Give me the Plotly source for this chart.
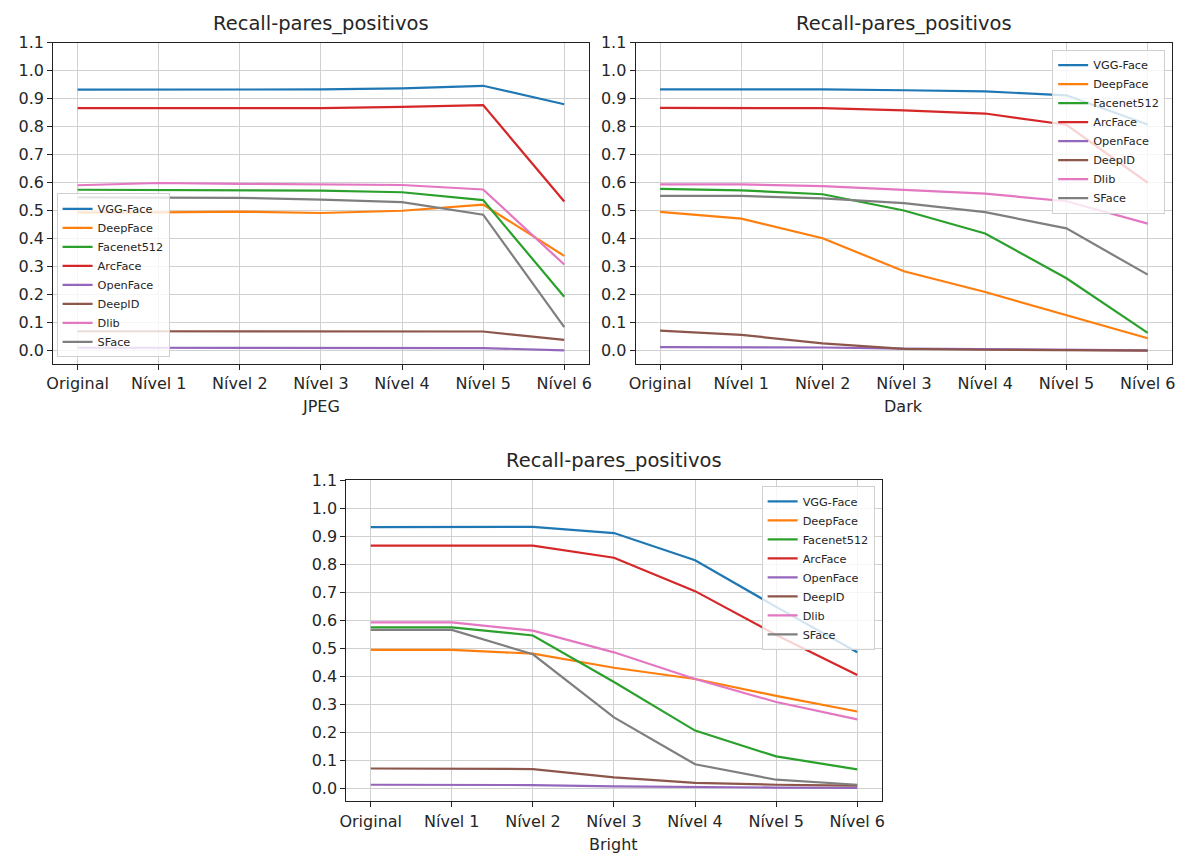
import plotly.graph_objects as go

W, H = 1188, 860

categories = ["Original", "Nível 1", "Nível 2", "Nível 3", "Nível 4", "Nível 5", "Nível 6"]
models = ["VGG-Face", "DeepFace", "Facenet512", "ArcFace", "OpenFace", "DeepID", "Dlib", "SFace"]
colors = ["#1f77b4", "#ff7f0e", "#2ca02c", "#d62728", "#9467bd", "#8c564b", "#e377c2", "#7f7f7f"]
y_ticks = [0.0, 0.1, 0.2, 0.3, 0.4, 0.5, 0.6, 0.7, 0.8, 0.9, 1.0, 1.1]
title_text = "Recall-pares_positivos"
panel_labels = ["JPEG", "Dark", "Bright"]

# JPEG
jpeg_vgg = [0.932, 0.932, 0.933, 0.933, 0.937, 0.946, 0.880]
jpeg_deepface = [0.494, 0.494, 0.497, 0.492, 0.500, 0.522, 0.339]
jpeg_facenet = [0.575, 0.574, 0.574, 0.572, 0.566, 0.538, 0.193]
jpeg_arcface = [0.866, 0.866, 0.867, 0.866, 0.871, 0.877, 0.533]
jpeg_openface = [0.011, 0.011, 0.011, 0.011, 0.011, 0.010, 0.002]
jpeg_deepid = [0.070, 0.070, 0.070, 0.070, 0.070, 0.069, 0.039]
jpeg_dlib = [0.591, 0.599, 0.596, 0.595, 0.592, 0.576, 0.308]
jpeg_sface = [0.548, 0.548, 0.546, 0.540, 0.531, 0.486, 0.085]

# Dark
dark_vgg = [0.933, 0.933, 0.933, 0.930, 0.926, 0.912, 0.808]
dark_deepface = [0.496, 0.472, 0.402, 0.284, 0.210, 0.127, 0.045]
dark_facenet = [0.578, 0.573, 0.559, 0.501, 0.419, 0.259, 0.064]
dark_arcface = [0.867, 0.867, 0.866, 0.858, 0.847, 0.807, 0.600]
dark_openface = [0.013, 0.013, 0.012, 0.008, 0.006, 0.004, 0.002]
dark_deepid = [0.072, 0.057, 0.027, 0.007, 0.004, 0.002, 0.001]
dark_dlib = [0.594, 0.594, 0.588, 0.574, 0.561, 0.534, 0.454]
dark_sface = [0.553, 0.553, 0.544, 0.527, 0.495, 0.437, 0.272]

# Bright
bright_vgg = [0.932, 0.932, 0.933, 0.911, 0.814, 0.648, 0.486]
bright_deepface = [0.495, 0.495, 0.481, 0.431, 0.391, 0.331, 0.275]
bright_facenet = [0.575, 0.575, 0.546, 0.380, 0.207, 0.115, 0.069]
bright_arcface = [0.866, 0.866, 0.866, 0.823, 0.704, 0.548, 0.405]
bright_openface = [0.014, 0.014, 0.013, 0.008, 0.005, 0.004, 0.003]
bright_deepid = [0.072, 0.072, 0.070, 0.040, 0.021, 0.014, 0.011]
bright_dlib = [0.593, 0.593, 0.563, 0.486, 0.391, 0.309, 0.247]
bright_sface = [0.566, 0.566, 0.479, 0.254, 0.087, 0.032, 0.014]

panels = [
    [jpeg_vgg, jpeg_deepface, jpeg_facenet, jpeg_arcface, jpeg_openface, jpeg_deepid, jpeg_dlib, jpeg_sface],
    [dark_vgg, dark_deepface, dark_facenet, dark_arcface, dark_openface, dark_deepid, dark_dlib, dark_sface],
    [bright_vgg, bright_deepface, bright_facenet, bright_arcface, bright_openface, bright_deepid, bright_dlib, bright_sface],
]

# pixel boxes (left, right, top, bottom)
boxes = [(46.7, 586.5, 34.0, 358.5), (634.0, 1175.0, 34.0, 358.5), (342.3, 882.0, 476.0, 800.7)]
ymins = [-0.046, -0.046, -0.045]
legend_pos = [(50, 352, "left", "bottom"), (1168, 41, "right", "top"), (875, 482, "right", "top")]

FONT = "DejaVu Sans"
TXT = "#262626"
fig = go.Figure()

def px_x(v):
    return v / W

def px_y(v):
    return 1 - v / H

legend_names = ["legend", "legend2", "legend3"]
for p, series in enumerate(panels):
    suffix = "" if p == 0 else str(p + 1)
    for i, vals in enumerate(series):
        fig.add_trace(go.Scatter(
            x=list(range(len(categories))), y=vals, mode="lines", name=models[i],
            line=dict(color=colors[i], width=2.2),
            xaxis="x" + suffix, yaxis="y" + suffix,
            legend=legend_names[p], showlegend=True,
        ))

layout = dict(
    width=W, height=H, margin=dict(l=0, r=0, t=0, b=0),
    paper_bgcolor="white", plot_bgcolor="white",
    font=dict(family=FONT, size=16, color=TXT),
    showlegend=True,
)
annotations = []
for p, (l, r, t, b) in enumerate(boxes):
    suffix = "" if p == 0 else str(p + 1)
    layout["xaxis" + suffix] = dict(
        domain=[px_x(l), px_x(r)], anchor="y" + suffix, range=[-0.3, 6.3],
        tickmode="array", tickvals=list(range(len(categories))), ticktext=categories,
        showgrid=True, gridcolor="#d0d0d0", gridwidth=1.2, zeroline=False,
        showline=True, mirror=True, linecolor="#222", linewidth=1.2,
        ticks="outside", ticklen=5, tickcolor="#222", tickfont=dict(size=16, family=FONT, color=TXT),
    )
    layout["yaxis" + suffix] = dict(
        domain=[px_y(b), px_y(t)], anchor="x" + suffix, range=[ymins[p], 1.1],
        tickmode="array", tickvals=y_ticks, ticktext=["%.1f" % v for v in y_ticks],
        showgrid=True, gridcolor="#d0d0d0", gridwidth=1.2, zeroline=False,
        showline=True, mirror=True, linecolor="#222", linewidth=1.2,
        ticks="outside", ticklen=5, tickcolor="#222", tickfont=dict(size=16, family=FONT, color=TXT),
    )
    cx = px_x((l + r) / 2)
    annotations.append(dict(text=title_text, x=cx, y=px_y(t - 19.5), xref="paper", yref="paper",
                            xanchor="center", yanchor="middle", showarrow=False,
                            font=dict(size=19.5, family=FONT, color=TXT)))
    annotations.append(dict(text=panel_labels[p], x=cx, y=px_y(b + 43.5), xref="paper", yref="paper",
                            xanchor="center", yanchor="middle", showarrow=False,
                            font=dict(size=16, family=FONT, color=TXT)))
layout["annotations"] = annotations

leg_common = dict(bgcolor="rgba(255,255,255,0.8)", bordercolor="#d0d0d0", borderwidth=1,
                  font=dict(size=11.3, family=FONT, color=TXT), xref="paper", yref="paper",
                  itemwidth=30, tracegroupgap=0)
for p, (lx, ly, xa, ya) in enumerate(legend_pos):
    layout[legend_names[p]] = dict(x=px_x(lx), y=px_y(ly), xanchor=xa, yanchor=ya, **leg_common)

fig.update_layout(**layout)
fig.write_html("out.html", config={"displayModeBar": False},
               post_script="document.body.style.margin='0';document.body.style.overflow='hidden';")
